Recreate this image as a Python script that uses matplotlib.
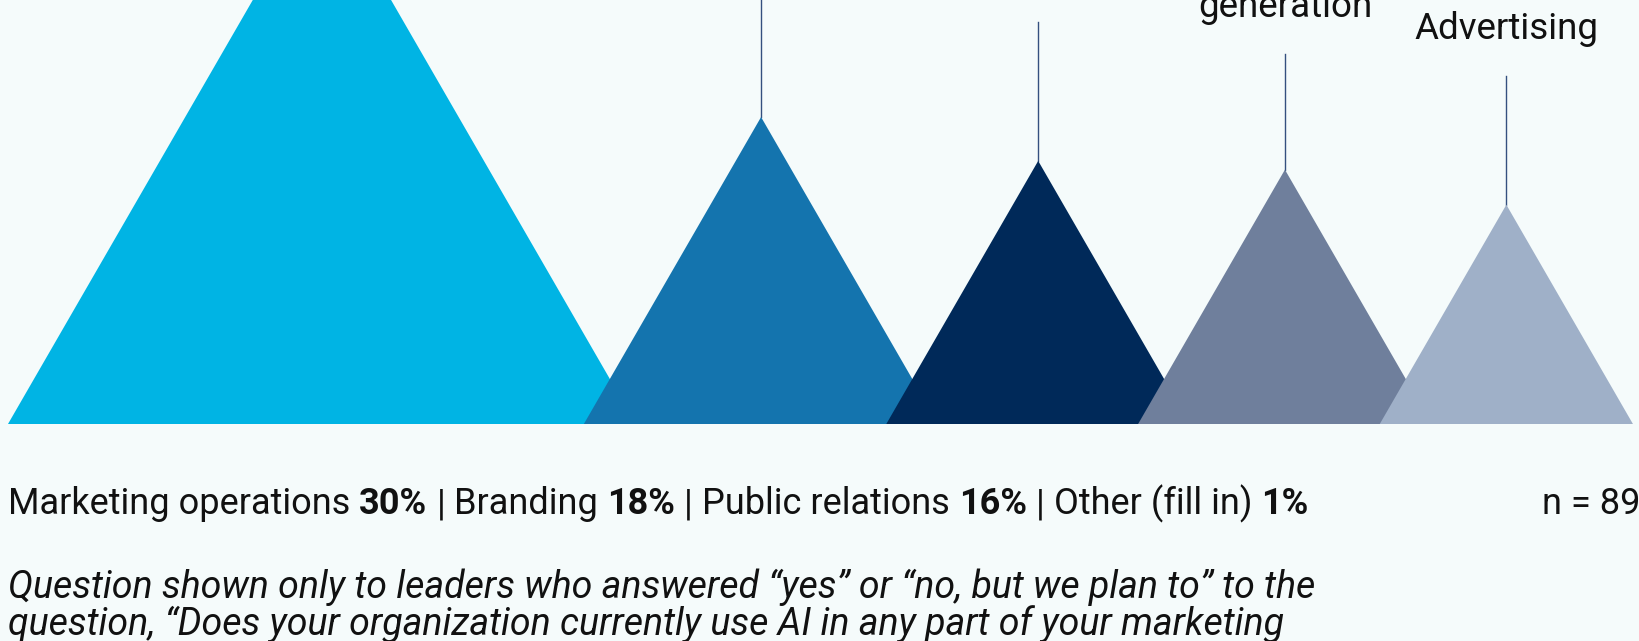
import numpy as np
import matplotlib
matplotlib.use("Agg")
import matplotlib.pyplot as plt
from matplotlib.transforms import IdentityTransform

# data (share of leaders, %)
labels = ["", "", "", "Lead\ngeneration", "Advertising"]  # first three are off the top of the view
values = [62, 35, 30, 29, 25]
colors = ["#00B4E4", "#1474AE", "#002959", "#6F7F9C", "#9FB0C8"]

other_names = ["Marketing operations", "Branding", "Public relations", "Other (fill in)"]
other_values = [30, 18, 16, 1]
n_resp = 89
note = ["Question shown only to leaders who answered \u201cyes\u201d or \u201cno, but we plan to\u201d to the",
        "question, \u201cDoes your organization currently use AI in any part of your marketing"]

# layout
W, H = 1640, 641
PX = 8.77          # pixels per percentage point
base_px = 424      # baseline of the triangles, px from top
left_px = 8
overlap = 52 / PX
stem_tops = [68, 50, 45.8, 42.2, 39.7]
bg = "#F5FBFB"
stem_color = "#34507F"
font = "Roboto"

plt.rcParams["font.family"] = [font, "DejaVu Sans"]

fig = plt.figure(figsize=(W / 100, H / 100), dpi=100)
fig.patch.set_facecolor(bg)
ax = fig.add_axes([0, 0, 1, 1])
ax.set_axis_off()
ax.set_facecolor(bg)
ax.set_xlim(-left_px / PX, (W - left_px) / PX)
ax.set_ylim(-(H - base_px) / PX, base_px / PX)

tan30 = np.tan(np.radians(30))
x = 0.0
for v, c, lab, st in zip(values, colors, labels, stem_tops):
    hw = v * tan30
    cx = x + hw
    ax.fill([x, cx, x + 2 * hw], [0, v, 0], color=c, lw=0, zorder=2)
    ax.plot([cx, cx], [v, st], color=stem_color, lw=1.0, zorder=1)
    if lab:
        ax.text(cx, st + 4.2, lab, ha="center", va="baseline", fontsize=26.5,
                color="#111111", linespacing=1.1)
    x = x + 2 * hw - overlap

# bottom line with bold percentages
renderer = fig.canvas.get_renderer()
fs = 26
t = fig.text(0, 0, "a a", fontsize=fs)
t2 = fig.text(0, 0, "aa", fontsize=fs)
space_w = t.get_window_extent(renderer).width - t2.get_window_extent(renderer).width
t.remove()
t2.remove()

pieces = []
for i, (name, val) in enumerate(zip(other_names, other_values)):
    if i > 0:
        pieces.append(("|", "normal"))
    pieces.append((name, "normal"))
    pieces.append((f"{val}%", "bold"))

xp = left_px
yb = H - 514
for txt, w in pieces:
    tt = fig.text(xp, yb, txt, transform=IdentityTransform(), fontsize=fs,
                  fontweight=w, color="#111111", va="baseline", ha="left")
    xp = tt.get_window_extent(renderer).x1 + space_w

fig.text(W, yb, f"n = {n_resp}", transform=IdentityTransform(), fontsize=fs,
         color="#111111", va="baseline", ha="right")

for line, y in zip(note, [598, 635]):
    fig.text(left_px, H - y, line, transform=IdentityTransform(), fontsize=27,
             style="italic", color="#111111", va="baseline", ha="left")

fig.savefig("out.png", dpi=100, facecolor=bg)
